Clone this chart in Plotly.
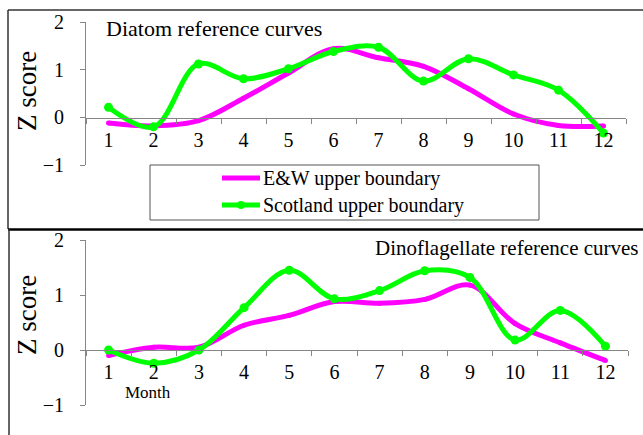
import plotly.graph_objects as go

months = ["1", "2", "3", "4", "5", "6", "7", "8", "9", "10", "11", "12"]

diatom_ew = [-0.12, -0.18, -0.07, 0.40, 0.93, 1.44, 1.25, 1.07, 0.60, 0.07, -0.17, -0.18]
diatom_scot = [0.21, -0.20, 1.12, 0.81, 1.02, 1.38, 1.47, 0.76, 1.23, 0.89, 0.57, -0.33]

dino_ew = [-0.10, 0.05, 0.05, 0.45, 0.63, 0.88, 0.85, 0.92, 1.18, 0.48, 0.13, -0.19]
dino_scot = [0.00, -0.24, 0.00, 0.77, 1.45, 0.93, 1.08, 1.44, 1.32, 0.18, 0.72, 0.07]

series_names = ["E&W upper boundary", "Scotland upper boundary"]
panel_titles = ["Diatom reference curves", "Dinoflagellate reference curves"]
y_ticks = [-1, 0, 1, 2]

W, H = 643, 435
MAGENTA = "#FF00FF"
GREEN = "#00FF00"
AXIS_GRAY = "#868686"
FONT = "Liberation Serif, Times New Roman, serif"


def px_x(p):
    return p / W


def px_y(p):
    return 1 - p / H


fig = go.Figure()

# Top panel
fig.add_trace(go.Scatter(x=months, y=diatom_ew, name=series_names[0], mode="lines+markers",
                         line=dict(color=MAGENTA, width=5, shape="spline", smoothing=1.0),
                         marker=dict(color=MAGENTA, size=5), xaxis="x", yaxis="y", showlegend=False))
fig.add_trace(go.Scatter(x=months, y=diatom_scot, name=series_names[1], mode="lines+markers",
                         line=dict(color=GREEN, width=5, shape="spline", smoothing=1.0),
                         marker=dict(color=GREEN, size=9), xaxis="x", yaxis="y", showlegend=False))
# Bottom panel
fig.add_trace(go.Scatter(x=months, y=dino_ew, name=series_names[0], mode="lines+markers",
                         line=dict(color=MAGENTA, width=5, shape="spline", smoothing=1.0),
                         marker=dict(color=MAGENTA, size=5), xaxis="x2", yaxis="y2", showlegend=False))
fig.add_trace(go.Scatter(x=months, y=dino_scot, name=series_names[1], mode="lines+markers",
                         line=dict(color=GREEN, width=5, shape="spline", smoothing=1.0),
                         marker=dict(color=GREEN, size=9), xaxis="x2", yaxis="y2", showlegend=False))

tickfont = dict(family=FONT, size=20, color="black")

xcommon = dict(type="category", categoryorder="array", categoryarray=months,
               range=[-0.5, 11.5], showline=True, linecolor=AXIS_GRAY, linewidth=1,
               ticks="outside", ticklen=5, tickcolor=AXIS_GRAY, tickson="boundaries",
               showgrid=False, zeroline=False, tickfont=tickfont, ticklabelstandoff=4,
               fixedrange=True, automargin=False)
ycommon = dict(range=[-1, 2], tickvals=y_ticks, showline=True, linecolor=AXIS_GRAY, linewidth=1,
               ticks="outside", ticklen=5, tickcolor=AXIS_GRAY, showgrid=False, zeroline=False,
               tickfont=tickfont, ticklabelstandoff=12, fixedrange=True, automargin=False)

fig.update_layout(
    width=W, height=H,
    margin=dict(l=0, r=0, t=0, b=0, pad=0, autoexpand=False),
    paper_bgcolor="white", plot_bgcolor="rgba(0,0,0,0)",
    showlegend=False,
    xaxis=dict(xcommon, domain=[px_x(86), px_x(626)], anchor="free", position=px_y(118)),
    yaxis=dict(ycommon, domain=[px_y(165), px_y(22)], anchor="x"),
    xaxis2=dict(xcommon, domain=[px_x(86), px_x(628)], anchor="free", position=px_y(350)),
    yaxis2=dict(ycommon, domain=[px_y(405), px_y(240)], anchor="x2"),
    font=dict(family=FONT, color="black"),
)

shapes = [
    # top panel frame
    dict(type="line", xref="paper", yref="paper", x0=px_x(8), x1=1, y0=px_y(10), y1=px_y(10),
         line=dict(color="#333333", width=1.5)),
    dict(type="line", xref="paper", yref="paper", x0=px_x(8), x1=px_x(8), y0=px_y(10), y1=px_y(229),
         line=dict(color="#333333", width=1.5)),
    dict(type="line", xref="paper", yref="paper", x0=px_x(8), x1=1, y0=px_y(229.5), y1=px_y(229.5),
         line=dict(color="black", width=2.5)),
    # bottom panel frame
    dict(type="line", xref="paper", yref="paper", x0=px_x(9), x1=px_x(9), y0=px_y(229), y1=0,
         line=dict(color="#333333", width=1.5)),
    # legend box
    dict(type="rect", xref="paper", yref="paper", x0=px_x(150), x1=px_x(539), y0=px_y(220), y1=px_y(165),
         line=dict(color="#555555", width=1), fillcolor="white"),
    dict(type="line", xref="paper", yref="paper", x0=px_x(222), x1=px_x(260), y0=px_y(178), y1=px_y(178),
         line=dict(color=MAGENTA, width=5)),
    dict(type="line", xref="paper", yref="paper", x0=px_x(222), x1=px_x(260), y0=px_y(205), y1=px_y(205),
         line=dict(color=GREEN, width=5)),
    dict(type="circle", xref="paper", yref="paper", x0=px_x(237), x1=px_x(245), y0=px_y(209), y1=px_y(201),
         line=dict(color=GREEN, width=0), fillcolor=GREEN),
]

annotations = [
    dict(text=panel_titles[0], xref="paper", yref="paper", x=px_x(104), y=px_y(29),
         xanchor="left", yanchor="middle", showarrow=False, font=dict(family=FONT, size=22)),
    dict(text=panel_titles[1], xref="paper", yref="paper", x=px_x(641), y=px_y(248),
         xanchor="right", yanchor="middle", showarrow=False, font=dict(family=FONT, size=21)),
    dict(text="Z score", xref="paper", yref="paper", x=px_x(27), y=px_y(91), textangle=-90,
         xanchor="center", yanchor="middle", showarrow=False, font=dict(family=FONT, size=27)),
    dict(text="Z score", xref="paper", yref="paper", x=px_x(27), y=px_y(315), textangle=-90,
         xanchor="center", yanchor="middle", showarrow=False, font=dict(family=FONT, size=27)),
    dict(text="Month", xref="paper", yref="paper", x=px_x(148), y=px_y(392),
         xanchor="center", yanchor="middle", showarrow=False, font=dict(family=FONT, size=17)),
    dict(text=series_names[0], xref="paper", yref="paper", x=px_x(261), y=px_y(178),
         xanchor="left", yanchor="middle", showarrow=False, font=dict(family=FONT, size=20)),
    dict(text=series_names[1], xref="paper", yref="paper", x=px_x(261), y=px_y(205),
         xanchor="left", yanchor="middle", showarrow=False, font=dict(family=FONT, size=20)),
]

fig.update_layout(shapes=shapes, annotations=annotations)

fig.write_html("out.html", config={"displayModeBar": False},
               post_script="document.body.style.margin='0';document.body.style.padding='0';")
